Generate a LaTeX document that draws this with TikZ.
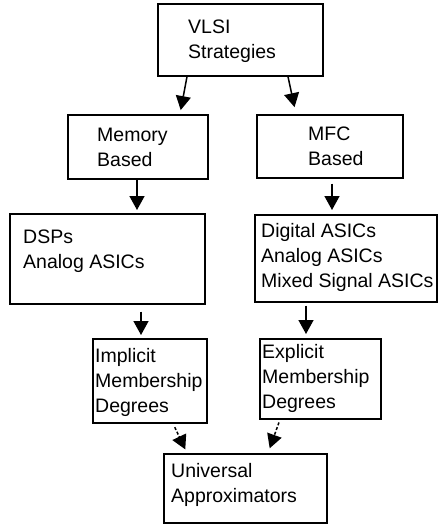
\documentclass[tikz,border=0pt]{standalone}
\usepackage{fontspec}
\setmainfont{Liberation Sans}
\usetikzlibrary{arrows.meta}

\begin{document}
\begin{tikzpicture}[
  x=1pt, y=-1pt,
  box/.style={draw, line width=1.6pt, inner sep=0pt, anchor=north west},
  label text/.style={anchor=base west, inner sep=0pt, align=left,
    font=\fontsize{19.5}{25}\selectfont},
  link/.style={line width=1.5pt, -{Triangle[length=14pt,width=15pt]}},
  soft link/.style={link, dash pattern=on 3pt off 2pt}
]
\useasboundingbox (0,0) rectangle (437,525);

% boxes
\node[box, minimum width=165pt, minimum height=72pt] (vlsi) at (157,3)   {};
\node[box, minimum width=140pt, minimum height=64pt] (mem)  at (67,114)  {};
\node[box, minimum width=146pt, minimum height=63pt] (mfc)  at (256,114) {};
\node[box, minimum width=195pt, minimum height=90pt] (dsp)  at (9,213)   {};
\node[box, minimum width=182pt, minimum height=87pt] (dig)  at (254,214) {};
\node[box, minimum width=114pt, minimum height=84pt] (imp)  at (92,338)  {};
\node[box, minimum width=121pt, minimum height=80pt] (exp)  at (259,338) {};
\node[box, minimum width=163pt, minimum height=69pt] (uni)  at (163,453) {};

% box texts (placed by the baseline of their last line)
\node[label text] (vlsi-t) at (188,58)  {VLSI\\Strategies};
\node[label text] (mem-t)  at (97,166)  {Memory\\Based};
\node[label text] (mfc-t)  at (308,165) {MFC\\Based};
\node[label text] (dsp-t)  at (23,268)  {DSPs\\Analog ASICs};
\node[label text] (dig-t)  at (261,287) {Digital ASICs\\Analog ASICs\\Mixed Signal ASICs};
\node[label text] (imp-t)  at (95,412)  {Implicit\\Membership\\Degrees};
\node[label text] (exp-t)  at (262,408) {Explicit\\Membership\\Degrees};
\node[label text] (uni-t)  at (171,502) {Universal\\Approximators};

% connectors
\draw[link, shorten >=4pt] ([xshift=30pt]vlsi.south west) -- ([xshift=113pt]mem.north west);
\draw[link, shorten >=7pt] ([xshift=131pt]vlsi.south west) -- ([xshift=40pt]mfc.north west);
\draw[link, shorten >=3pt] ([xshift=70pt]mem.south west) -- ([xshift=128pt]dsp.north west);
\draw[link, shorten <=5pt, shorten >=4pt] ([xshift=76pt]mfc.south west) -- ([xshift=78pt]dig.north west);
\draw[link, shorten <=7pt, shorten >=3pt] ([xshift=132pt]dsp.south west) -- ([xshift=49pt]imp.north west);
\draw[link, shorten <=3pt, shorten >=4pt] ([xshift=52pt]dig.south west) -- ([xshift=47pt]exp.north west);
\draw[soft link, shorten <=4pt, shorten >=4pt] ([xshift=81pt]imp.south west) -- ([xshift=24pt]uni.north west);
\draw[soft link, shorten <=3pt, shorten >=5pt] ([xshift=21pt]exp.south west) -- ([xshift=105pt]uni.north west);
\end{tikzpicture}
\end{document}
